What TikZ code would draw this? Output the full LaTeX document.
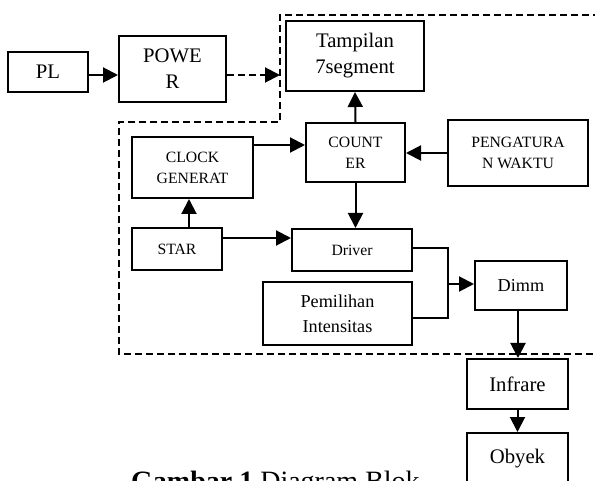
\documentclass[tikz,border=0pt]{standalone}
\usepackage{fontspec}
\setmainfont{Liberation Serif}
\usetikzlibrary{arrows.meta}
\newcommand\bigf{\fontsize{20.7}{26}\selectfont}
\newcommand\medf{\fontsize{18.2}{25}\selectfont}
\newcommand\smallf{\fontsize{15.7}{21}\selectfont}
\begin{document}
\begin{tikzpicture}[x=1pt,y=-1pt,
  box/.style={draw, line width=2pt, inner sep=0pt, align=center},
  lnk/.style={line width=2pt},
  arr/.style={line width=2pt, -{Triangle[length=15pt 0 0,width=15pt 0 0]}},
  bound/.style={line width=1.6pt, dash pattern=on 7pt off 4pt}]
\useasboundingbox (0,0) rectangle (595,481);
% dashed boundary
\draw[bound] (600,15) -- (280,15) -- (280,122) -- (119,122) -- (119,354) -- (600,354);
% boxes
\node[box, font=\bigf, minimum width=80pt, minimum height=40pt] (pl) at (48,72) {PL};
\node[box, font=\bigf, minimum width=107pt, minimum height=66pt] (power) at (172.5,69) {POWE\\R};
\node[box, font=\bigf, minimum width=138pt, minimum height=70pt] (tamp) at (355,56) {Tampilan\\7segment};
\node[box, font=\smallf, minimum width=99pt, minimum height=59pt] (counter) at (355.5,152.5) {COUNT\\ER};
\node[box, font=\smallf, minimum width=140pt, minimum height=66pt] (peng) at (518,153) {PENGATURA\\N WAKTU};
\node[box, font=\smallf, minimum width=121pt, minimum height=61pt] (clock) at (192.5,167.5) {CLOCK\\GENERAT};
\node[box, font=\smallf, minimum width=90pt, minimum height=42pt] (star) at (177,249) {STAR};
\node[box, font=\smallf, minimum width=120pt, minimum height=42pt] (driver) at (352,250) {Driver};
\node[box, font=\medf, minimum width=149pt, minimum height=63pt] (pem) at (337.5,313.5) {Pemilihan\\Intensitas};
\node[box, font=\medf, minimum width=92pt, minimum height=49pt] (dimm) at (521,285.5) {Dimm};
\node[box, font=\bigf, minimum width=101pt, minimum height=50pt] (infr) at (517.5,384) {Infrare};
\node[box, font=\bigf, minimum width=101pt, anchor=north, inner ysep=16pt, text depth=40pt] (obyek) at (517.5,432) {Obyek};
% caption (cut by the lower edge, as in the source)
\node[anchor=base west, inner sep=0pt, font=\fontsize{28}{30}\selectfont] (cap) at (131,490) {\textbf{Gambar 1} Diagram Blok};
% connectors
\draw[arr] (pl.east |- 0,75) -- (power.west |- 0,75);
\coordinate (bnd) at (280,75);
\draw[arr, dash pattern=on 7pt off 4pt] (power.east |- bnd) -- (bnd);
\draw[arr] (counter.north) -- (tamp.south);
\draw[arr] (clock.east |- 0,145) -- (counter.west |- 0,145);
\draw[arr] (peng.west) -- (peng.west -| counter.east);
\draw[arr] (189,0 |- star.north) -- (189,0 |- clock.south);
\draw[arr] (star.east |- 0,238) -- (driver.west |- 0,238);
\draw[arr] (counter.south) -- (counter.south |- driver.north);
\coordinate (j) at (448,284);
\draw[lnk] (driver.east |- 0,248) -- (j |- 0,248) -- (j |- 0,318) -- (pem.east |- 0,318);
\draw[arr] (j) -- (dimm.west |- j);
\draw[arr] (518,0 |- dimm.south) -- (518,0 |- infr.north);
\draw[arr] (infr.south) -- (obyek.north);
\end{tikzpicture}
\end{document}
